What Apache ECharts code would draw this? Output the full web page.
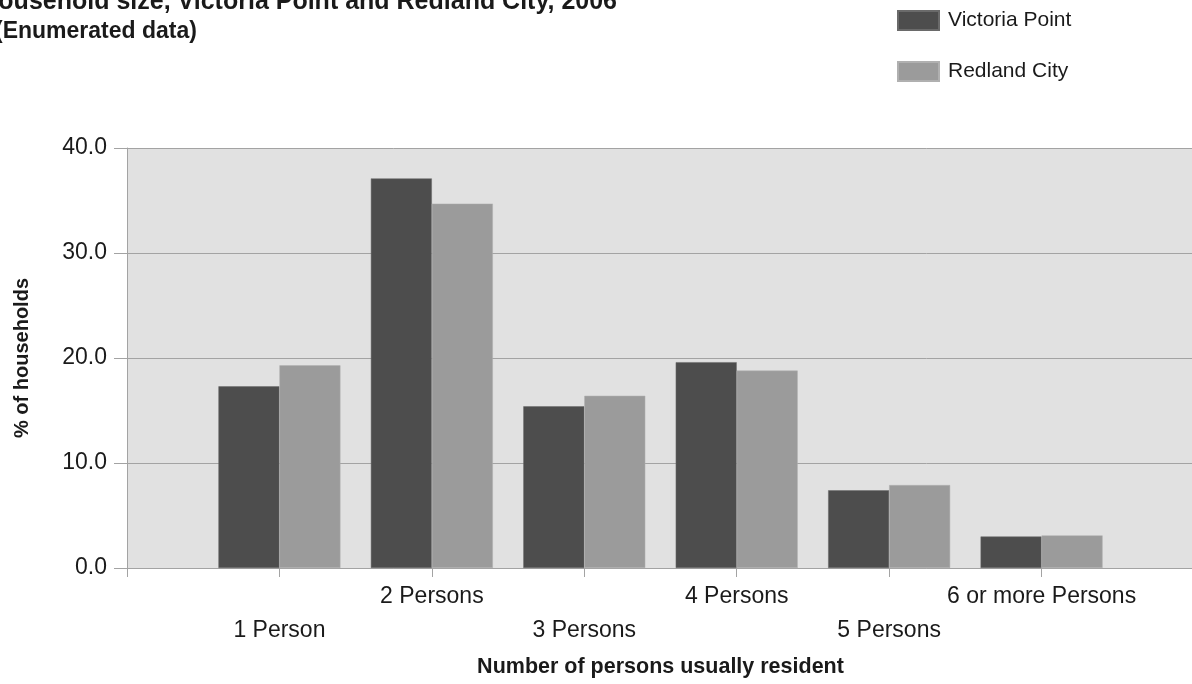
<!DOCTYPE html>
<html>
<head>
<meta charset="utf-8">
<script src="https://cdn.jsdelivr.net/npm/echarts@6/dist/echarts.min.js"></script>
<style>
  html, body { margin: 0; padding: 0; background: #fff; }
  #chart { width: 1192px; height: 684px; }
</style>
</head>
<body>
<div id="chart"></div>
<script>
// Household size categories; blank slots pad both ends of the axis
const categories = ['', '1 Person', '2 Persons', '3 Persons', '4 Persons', '5 Persons', '6 or more Persons', ''];
const victoriaPoint = [null, 17.3, 37.1, 15.4, 19.6, 7.4, 3.0, null];
const redlandCity = [null, 19.3, 34.7, 16.4, 18.8, 7.9, 3.1, null];
const seriesNames = ['Victoria Point', 'Redland City'];
const yTicks = { min: 0, max: 40, interval: 10 };

const FONT = "'Liberation Sans', Arial, sans-serif";
const TEXT = '#1a1a1a';
const LINE = '#a3a3a3';

const chart = echarts.init(document.getElementById('chart'), null, { renderer: 'canvas' });

chart.setOption({
  animation: false,
  backgroundColor: '#ffffff',
  textStyle: { fontFamily: FONT },
  title: [
    {
      text: 'Household size, Victoria Point and Redland City, 2006',
      right: 575, top: -10, padding: 0,
      textStyle: { fontFamily: FONT, fontWeight: 'bold', fontSize: 25, color: TEXT }
    },
    {
      text: '(Enumerated data)',
      left: -5, top: 20, padding: 0,
      textStyle: { fontFamily: FONT, fontWeight: 'bold', fontSize: 23, color: TEXT }
    }
  ],
  legend: {
    orient: 'vertical',
    left: 897, top: 10,
    padding: 0,
    itemWidth: 41, itemHeight: 19,
    itemGap: 30,
    icon: 'rect',
    data: seriesNames,
    textStyle: { fontFamily: FONT, fontSize: 21, color: TEXT, padding: [0, 0, 0, 4] }
  },
  grid: {
    left: 127, width: 1067, top: 148, bottom: 116,
    outerBoundsMode: 'none',
    containLabel: false,
    show: true, backgroundColor: '#e1e1e1', borderWidth: 0
  },
  xAxis: {
    type: 'category',
    data: categories,
    boundaryGap: false,
    name: 'Number of persons usually resident',
    nameLocation: 'middle',
    nameGap: 88,
    nameTextStyle: { fontFamily: FONT, fontWeight: 'bold', fontSize: 21.5, color: TEXT },
    axisLine: { show: true, lineStyle: { color: LINE, width: 1 } },
    axisTick: { show: true, length: 9, lineStyle: { color: LINE } },
    splitLine: { show: false },
    axisLabel: {
      interval: 0,
      hideOverlap: false,
      margin: 17,
      fontFamily: FONT, fontSize: 23, color: TEXT,
      // alternate labels sit on a lower row
      formatter: (v, i) => (i % 2 === 1 ? '{lo|' + v + '}' : '{hi|' + v + '}'),
      rich: {
        hi: { fontFamily: FONT, fontSize: 23, color: TEXT, lineHeight: 23 },
        lo: { fontFamily: FONT, fontSize: 23, color: TEXT, lineHeight: 23, padding: [68, 0, 0, 0] }
      }
    }
  },
  yAxis: {
    type: 'value',
    min: yTicks.min, max: yTicks.max, interval: yTicks.interval,
    name: '% of households',
    nameLocation: 'middle',
    nameRotate: 90,
    nameGap: 95,
    nameTextStyle: { fontFamily: FONT, fontWeight: 'bold', fontSize: 20, color: TEXT },
    axisLine: { show: true, lineStyle: { color: LINE, width: 1 } },
    axisTick: { show: true, length: 13, lineStyle: { color: LINE } },
    splitLine: { show: true, lineStyle: { color: LINE, width: 1 } },
    axisLabel: {
      margin: 20,
      fontFamily: FONT, fontSize: 23, color: TEXT,
      formatter: v => v.toFixed(1)
    }
  },
  series: [
    {
      name: seriesNames[0], type: 'bar', data: victoriaPoint,
      barWidth: 61, barGap: '0%',
      itemStyle: { color: '#4d4d4d', borderColor: '#6a6a6a', borderWidth: 0.5 }
    },
    {
      name: seriesNames[1], type: 'bar', data: redlandCity,
      barWidth: 61, barGap: '0%',
      itemStyle: { color: '#9b9b9b', borderColor: '#b0b0b0', borderWidth: 0.5 }
    }
  ]
});
</script>
</body>
</html>
